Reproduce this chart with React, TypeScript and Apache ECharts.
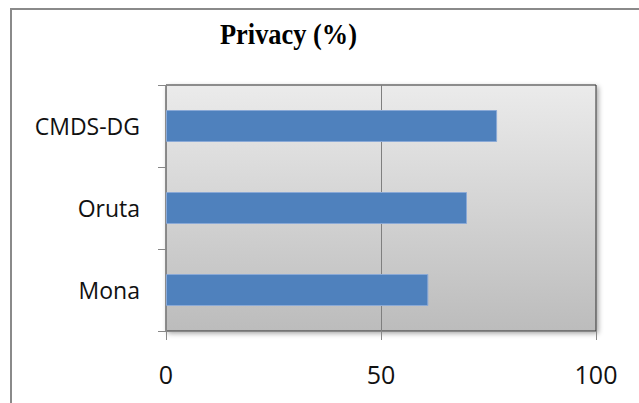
import React, { useEffect, useRef } from "react";
import * as echarts from "echarts";

const categories = ["Mona", "Oruta", "CMDS-DG"];
const privacyValues = [61, 70, 77];
const xTicks = [0, 50, 100];
const titleText = "Privacy (%)";

export default function App() {
  const ref = useRef<HTMLDivElement>(null);
  useEffect(() => {
    document.body.style.margin = "0";
    const chart = echarts.init(ref.current!, undefined, { renderer: "svg" });
    chart.setOption({
      animation: false,
      backgroundColor: "#ffffff",
      graphic: [
        {
          type: "polyline",
          shape: { points: [[11, 403], [11, 9], [639, 9]] },
          style: { stroke: "#8a8a8a", lineWidth: 2, fill: "none" },
          z: 10,
        },
        {
          type: "text",
          x: 220,
          y: 20,
          scaleX: 0.91,
          style: {
            text: titleText,
            fontFamily: "Liberation Serif",
            fontWeight: "bold",
            fontSize: 29,
            fill: "#000",
            verticalAlign: "top",
            align: "left",
          },
          z: 10,
        },
      ],
      grid: {
        left: 166,
        top: 85,
        width: 430,
        height: 246,
        show: true,
        borderColor: "#2e2e2e",
        borderWidth: 1,
        shadowBlur: 5,
        shadowColor: "rgba(0,0,0,0.35)",
        shadowOffsetX: 2,
        shadowOffsetY: 2,
        backgroundColor: new echarts.graphic.LinearGradient(0, 0, 0, 1, [
          { offset: 0, color: "#ebebeb" },
          { offset: 1, color: "#bcbcbc" },
        ]),
      },
      xAxis: {
        type: "value",
        min: xTicks[0],
        max: xTicks[xTicks.length - 1],
        interval: xTicks[1] - xTicks[0],
        axisLine: { show: true, lineStyle: { color: "#878787", width: 1 } },
        axisTick: { show: true, length: 9, lineStyle: { color: "#878787" } },
        splitLine: { show: true, lineStyle: { color: "#7f7f7f", width: 1 } },
        axisLabel: {
          fontFamily: "Open Sans",
          fontSize: 25,
          color: "#111",
          margin: 30,
        },
      },
      yAxis: {
        type: "category",
        data: categories,
        boundaryGap: true,
        axisLine: { show: true, lineStyle: { color: "#878787", width: 1 } },
        axisTick: { show: true, length: 8, lineStyle: { color: "#878787" } },
        splitLine: { show: false },
        axisLabel: {
          fontFamily: "Open Sans",
          fontSize: 23,
          color: "#111",
          margin: 26,
        },
      },
      series: [
        {
          type: "bar",
          data: privacyValues,
          barWidth: 32,
          itemStyle: {
            color: "#4f81bd",
            borderColor: "#8aa9d6",
            borderWidth: 1,
          },
        },
      ],
    });
    return () => chart.dispose();
  }, []);
  return (
    <div
      ref={ref}
      style={{ position: "absolute", left: 0, top: 0, width: 639, height: 403 }}
    />
  );
}
